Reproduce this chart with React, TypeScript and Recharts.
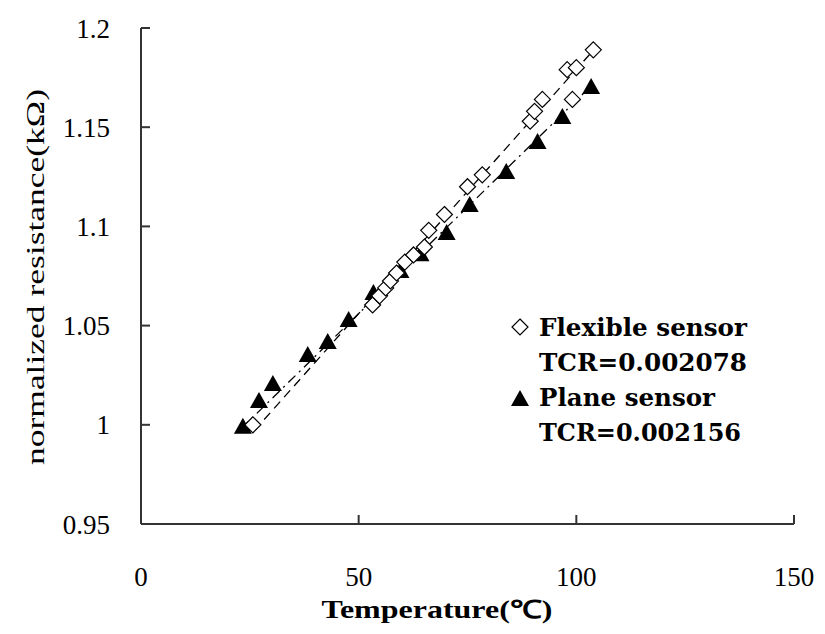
import React from 'react';
import { ScatterChart, Scatter, XAxis, YAxis } from 'recharts';

// Flexible sensor (open diamonds)
const flexTemp = [25.7, 53.2, 54.8, 56.2, 57.3, 58.7, 60.6, 62.6, 65.1, 66.1, 69.7, 75.0, 78.4, 89.4, 90.4, 92.2, 99.1, 97.9, 100.0, 103.9];
const flexRes = [1.0, 1.0604, 1.065, 1.069, 1.0725, 1.0765, 1.082, 1.0856, 1.0896, 1.098, 1.106, 1.12, 1.126, 1.153, 1.158, 1.164, 1.164, 1.179, 1.18, 1.189];

// Plane sensor (filled triangles)
const planeTemp = [23.4, 27.1, 30.3, 38.3, 42.9, 47.7, 53.4, 59.6, 64.2, 70.2, 75.5, 83.9, 91.1, 96.8, 103.4];
const planeRes = [0.999, 1.012, 1.0206, 1.0352, 1.0417, 1.0528, 1.0664, 1.0775, 1.086, 1.0967, 1.1108, 1.1274, 1.1425, 1.1551, 1.1703];

// fitted lines (end points)
const flexFitTemp = [26, 104];
const flexFitRes = [0.997, 1.189];
const planeFitTemp = [23, 103.5];
const planeFitRes = [0.998, 1.171];

const xTicks = [0, 50, 100, 150];
const yTicks = [0.95, 1, 1.05, 1.1, 1.15, 1.2];

const legendLines = ['Flexible sensor', 'TCR=0.002078', 'Plane sensor', 'TCR=0.002156'];
const legendWidths = [208, 208, 176, 202];

const zip = (xs: number[], ys: number[]) => xs.map((x, i) => ({ x, y: ys[i] }));

const flexData = zip(flexTemp, flexRes);
const planeData = zip(planeTemp, planeRes);
const flexFit = zip(flexFitTemp, flexFitRes);
const planeFit = zip(planeFitTemp, planeFitRes);

const FONT = 'Liberation Serif';
const AXIS = '#333333';

const Diamond = (props: any) => {
  const { cx, cy } = props;
  const r = 8;
  return (
    <polygon
      points={`${cx},${cy - r} ${cx + r},${cy} ${cx},${cy + r} ${cx - r},${cy}`}
      fill="#ffffff"
      stroke="#000000"
      strokeWidth={1.2}
    />
  );
};

const Triangle = (props: any) => {
  const { cx, cy } = props;
  return (
    <polygon
      points={`${cx},${cy - 9} ${cx + 9},${cy + 7} ${cx - 9},${cy + 7}`}
      fill="#000000"
    />
  );
};

const Empty = () => <g />;

const LegendBox = () => (
  <svg width={260} height={140} style={{ position: 'absolute', left: 505, top: 311 }}>
    <polygon points="15,8 23,16 15,24 7,16" fill="#fff" stroke="#000" strokeWidth={1.2} />
    <polygon points="15,79 24,95 6,95" fill="#000" />
    {legendLines.map((t, i) => (
      <text
        key={t}
        x={34}
        y={16 + i * 35}
        dominantBaseline="central"
        fontFamily="DejaVu Serif"
        fontSize={25}
        fontWeight="bold"
        textLength={legendWidths[i]}
        lengthAdjust="spacingAndGlyphs"
        fill="#000"
      >
        {t}
      </text>
    ))}
  </svg>
);

const tickStyle = { fill: '#000', fontSize: 27, fontFamily: 'serif' };

export default function App() {
  return (
    <div style={{ position: 'absolute', left: 0, top: 0, width: 825, height: 634, background: '#fff' }}>
      <ScatterChart width={825} height={634} margin={{ top: 28, right: 31, bottom: 30, left: 81 }}>
        <XAxis
          type="number"
          dataKey="x"
          domain={[0, 150]}
          ticks={xTicks}
          height={80}
          axisLine={{ stroke: AXIS, strokeWidth: 2 }}
          tickLine={{ stroke: AXIS, strokeWidth: 2 }}
          tickSize={-9}
          tickMargin={52}
          tick={tickStyle}
          label={{
            content: () => (
              <text
                x={437}
                y={609}
                textAnchor="middle"
                dominantBaseline="central"
                fontFamily={FONT}
                fontSize={25}
                fontWeight="bold"
                textLength={231}
                lengthAdjust="spacingAndGlyphs"
                fill="#000"
              >
                Temperature(℃)
              </text>
            ),
          }}
        />
        <XAxis
          xAxisId="top"
          orientation="top"
          type="number"
          dataKey="x"
          domain={[0, 150]}
          height={0}
          tick={false}
          tickLine={false}
          axisLine={{ stroke: AXIS, strokeWidth: 2 }}
        />
        <YAxis
          type="number"
          dataKey="y"
          domain={[0.95, 1.2]}
          ticks={yTicks}
          width={60}
          axisLine={{ stroke: AXIS, strokeWidth: 2 }}
          tickLine={{ stroke: AXIS, strokeWidth: 2 }}
          tickSize={-9}
          tickMargin={40}
          tickFormatter={(v: number) => String(v)}
          tick={tickStyle}
          label={{
            content: () => (
              <text
                x={35}
                y={277}
                transform="rotate(-90 35 277)"
                textAnchor="middle"
                dominantBaseline="central"
                fontFamily="Times New Roman"
                fontSize={25}
                textLength={376}
                lengthAdjust="spacingAndGlyphs"
                fill="#000"
              >
                normalized resistance(kΩ)
              </text>
            ),
          }}
        />
        <YAxis
          yAxisId="right"
          orientation="right"
          type="number"
          dataKey="y"
          domain={[0.95, 1.2]}
          width={0}
          tick={false}
          tickLine={false}
          axisLine={{ stroke: AXIS, strokeWidth: 2 }}
        />
        <Scatter
          name="Flexible fit"
          data={flexFit}
          line={{ stroke: '#000', strokeWidth: 1.3, strokeDasharray: '9 6' }}
          shape={<Empty />}
          legendType="none"
          isAnimationActive={false}
        />
        <Scatter
          name="Plane fit"
          data={planeFit}
          line={{ stroke: '#000', strokeWidth: 1.3, strokeDasharray: '10 5 2 5' }}
          shape={<Empty />}
          legendType="none"
          isAnimationActive={false}
        />
        <Scatter name="Plane sensor" data={planeData} shape={<Triangle />} isAnimationActive={false} />
        <Scatter name="Flexible sensor" data={flexData} shape={<Diamond />} isAnimationActive={false} />
      </ScatterChart>
      <LegendBox />
    </div>
  );
}
